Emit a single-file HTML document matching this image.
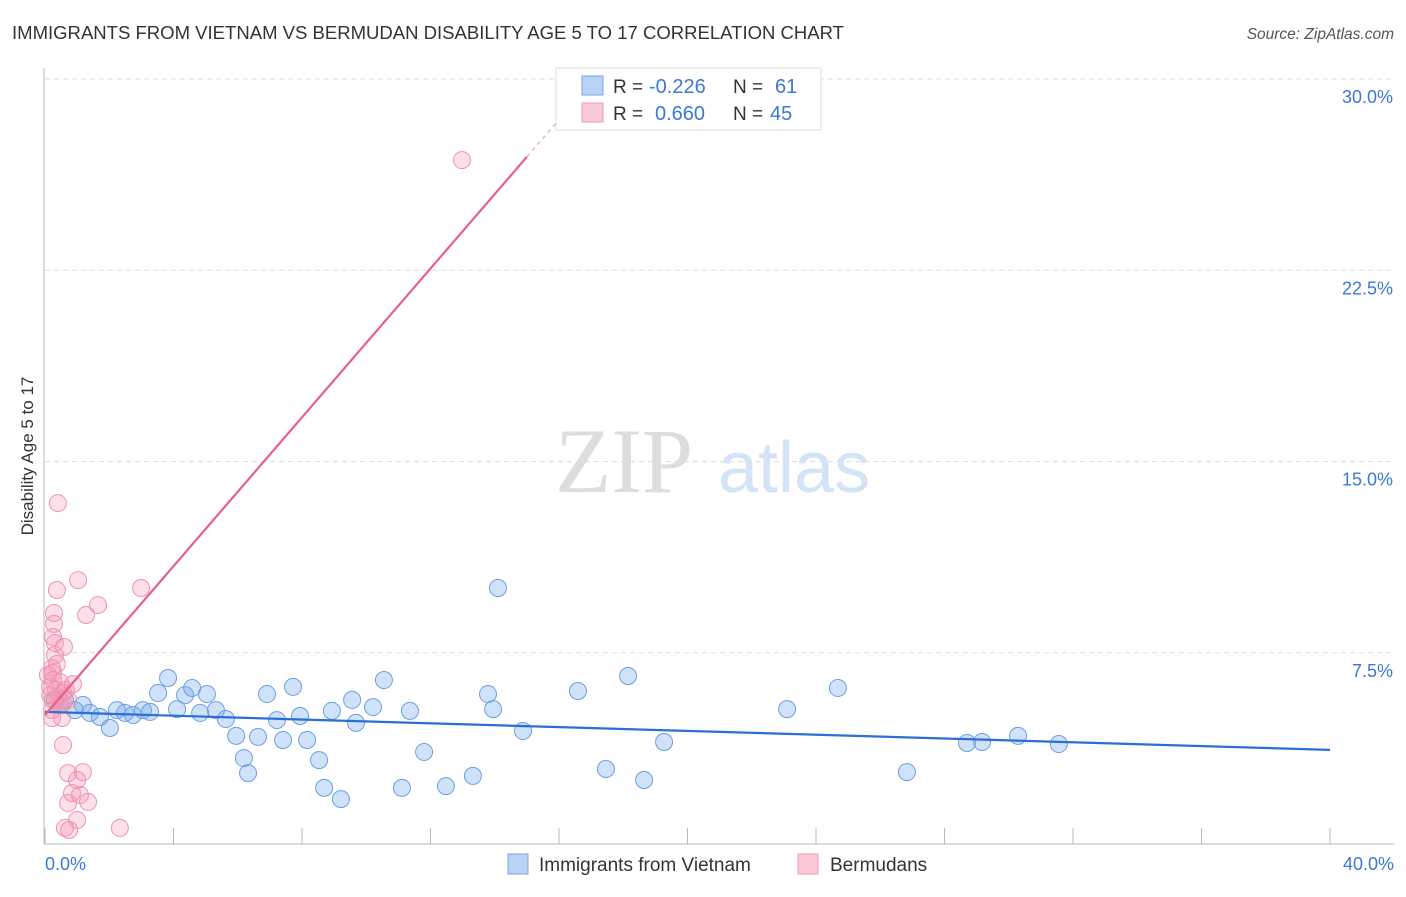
<!DOCTYPE html>
<html><head><meta charset="utf-8"><style>
body{margin:0;background:#fff;font-family:"Liberation Sans",sans-serif;}
</style></head><body>
<svg width="1406" height="892" viewBox="0 0 1406 892" xmlns="http://www.w3.org/2000/svg" font-family="Liberation Sans, sans-serif">
<text x="12" y="39" font-size="18" fill="#333" textLength="832" lengthAdjust="spacingAndGlyphs">IMMIGRANTS FROM VIETNAM VS BERMUDAN DISABILITY AGE 5 TO 17 CORRELATION CHART</text>
<text x="1394" y="39" font-size="15.5" fill="#555" font-style="italic" text-anchor="end">Source: ZipAtlas.com</text>
<g id="grid"></g>
<g>
<text x="555" y="492" font-size="92" fill="#ddd" font-family="Liberation Serif, serif">ZIP</text>
<text x="718" y="492" font-size="72" fill="#d4e3f5">atlas</text>
</g>
<text transform="translate(33,456) rotate(-90)" font-size="17" fill="#333" text-anchor="middle">Disability Age 5 to 17</text>
<g id="marks"></g>
<g>
<rect x="556" y="68" width="265" height="62" fill="#fff" stroke="#ddd"/>
<rect x="582" y="76" width="21" height="19" fill="#b8d3f5" stroke="#7aa8e6"/>
<rect x="582" y="103" width="21" height="19" fill="#fbc8d6" stroke="#ec9ab3"/>
<text x="613" y="93" font-size="19" fill="#333">R =</text>
<text x="649" y="93" font-size="20" fill="#3b78d8">-0.226</text>
<text x="733" y="93" font-size="19" fill="#333">N =</text>
<text x="775" y="93" font-size="20" fill="#3b78d8">61</text>
<text x="613" y="120" font-size="19" fill="#333">R =</text>
<text x="655" y="120" font-size="20" fill="#3b78d8">0.660</text>
<text x="733" y="120" font-size="19" fill="#333">N =</text>
<text x="770" y="120" font-size="20" fill="#3b78d8">45</text>
</g>
<g>
<rect x="508" y="854" width="20" height="20" fill="#b8d3f5" stroke="#7aa8e6"/>
<text x="539" y="871" font-size="19" fill="#333">Immigrants from Vietnam</text>
<rect x="798" y="854" width="20" height="20" fill="#fbc8d6" stroke="#ec9ab3"/>
<text x="830" y="871" font-size="19" fill="#333">Bermudans</text>
</g>
<text x="45" y="870" font-size="18" fill="#3b78d8">0.0%</text>
<text x="1394" y="870" font-size="18" fill="#3b78d8" text-anchor="end">40.0%</text>
</svg>
<script>
const yTicks=[7.5,15,22.5,30];
const yTickLabels=["7.5%","15.0%","22.5%","30.0%"];
const xTicks=[0,4,8,12,16,20,24,28,32,36,40];
const blueX=[0.31,0.47,0.62,0.93,1.18,1.40,1.71,2.02,2.24,2.49,2.74,3.05,3.27,3.52,3.83,4.11,4.36,4.58,4.83,5.04,5.32,5.63,5.95,6.19,6.32,6.63,6.91,7.22,7.41,7.72,7.94,8.16,8.53,8.69,8.93,9.21,9.56,9.68,10.21,10.55,11.11,11.36,11.80,12.48,13.32,13.79,13.95,14.10,14.88,16.59,17.46,18.15,18.65,19.27,23.10,24.68,26.83,28.70,29.17,30.29,31.56];
const blueY=[5.65,5.45,5.65,5.25,5.45,5.14,4.98,4.55,5.25,5.14,5.06,5.25,5.18,5.92,6.51,5.29,5.84,6.12,5.14,5.88,5.25,4.90,4.24,3.37,2.78,4.20,5.88,4.86,4.08,6.16,5.02,4.08,3.29,2.20,5.22,1.76,5.65,4.75,5.37,6.43,2.20,5.22,3.61,2.27,2.67,5.88,5.29,10.04,4.43,6.00,2.94,6.59,2.51,4.00,5.29,6.12,2.82,3.96,4.00,4.24,3.92];
const pinkX=[0.40,1.03,0.37,2.99,1.65,1.28,0.28,0.28,0.25,0.31,0.59,0.37,0.22,0.25,0.25,0.47,0.87,0.16,0.56,0.40,0.25,0.56,0.72,0.22,0.53,0.22,0.56,0.72,1.18,1.00,0.84,1.09,1.34,0.72,1.00,0.62,0.75,2.33,12.98,0.09,0.34,0.47,0.16,0.65,0.31];
const pinkY=[13.37,10.35,9.96,10.04,9.37,8.98,9.06,8.63,8.12,7.88,7.73,7.06,6.90,6.71,6.43,6.35,6.27,6.16,5.92,5.76,5.65,5.53,5.65,5.25,4.94,4.94,3.88,2.78,2.82,2.51,2.00,1.92,1.65,1.61,0.94,0.63,0.55,0.63,26.82,6.63,6.04,5.45,5.84,6.04,7.41];
const blueTrend=[5.18,3.69]; // y at x=0 and x=40
const pinkTrend=[5.06,1.459]; // intercept, slope
const X=v=>45+v*32.125, Y=v=>844-v*25.5;
const NS="http://www.w3.org/2000/svg";
function mk(tag,attrs,parent){const e=document.createElementNS(NS,tag);for(const k in attrs)e.setAttribute(k,attrs[k]);parent.appendChild(e);return e;}
const grid=document.getElementById('grid');
yTicks.forEach((t,i)=>{
  const l=mk('line',{x1:45,x2:1394,y1:Y(t),y2:Y(t),stroke:'#ddd','stroke-dasharray':'5,4'},grid);
  
  
  const tx=mk('text',{x:1393,y:Y(t)+24,'font-size':18,fill:'#3b78d8','text-anchor':'end'},grid);
  tx.textContent=yTickLabels[i];
  
  
});
const ax=mk('line',{x1:44,x2:44,y1:68,y2:844,stroke:'#bbb'},grid);


const bx=mk('line',{x1:44,x2:1394,y1:844,y2:844,stroke:'#bbb'},grid);


xTicks.forEach(t=>{
  const l=mk('line',{x1:X(t),x2:X(t),y1:828,y2:844,stroke:'#bbb'},grid);
  
  
});
const marks=document.getElementById('marks');
blueX.forEach((v,i)=>{
  const c=mk('circle',{cx:X(v),cy:Y(blueY[i]),r:8.5,fill:'rgba(110,165,235,0.32)',stroke:'#6b9fe3','stroke-width':1},marks);
  
  
});
pinkX.forEach((v,i)=>{
  const c=mk('circle',{cx:X(v),cy:Y(pinkY[i]),r:8.5,fill:'rgba(245,150,180,0.3)',stroke:'#ec95b0','stroke-width':1},marks);
  
  
});
const bl=mk('line',{x1:X(0),y1:Y(blueTrend[0]),x2:X(40),y2:Y(blueTrend[1]),stroke:'#2a6fd6','stroke-width':2.2},marks);


const pl=mk('line',{x1:X(0),y1:Y(pinkTrend[0]),x2:X(15),y2:Y(pinkTrend[0]+pinkTrend[1]*15),stroke:'#e8608a','stroke-width':2.2},marks);


const xe=(30-pinkTrend[0])/pinkTrend[1];
const pd=mk('line',{x1:X(15),y1:Y(pinkTrend[0]+pinkTrend[1]*15),x2:X(xe),y2:Y(30),stroke:'#f0a0b8','stroke-width':1.2,'stroke-dasharray':'4,4'},marks);


</script>
</body></html>
